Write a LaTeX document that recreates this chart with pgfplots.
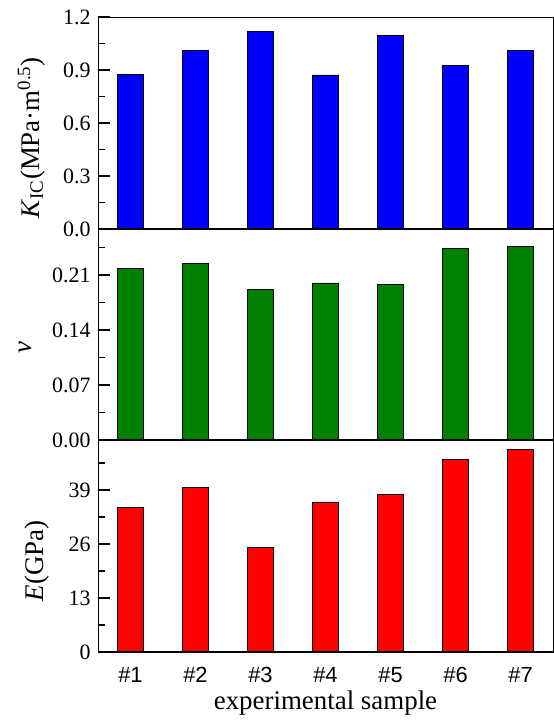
\documentclass[border=0pt]{standalone}
\usepackage{fontspec}
\setmainfont{Liberation Serif}
\newfontfamily\arialf{Liberation Sans}
\usepackage{pgfplots}
\pgfplotsset{compat=1.18}
\definecolor{bblue}{RGB}{0,0,255}
\definecolor{bgreen}{RGB}{0,128,0}
\definecolor{bred}{RGB}{255,0,0}
\pgfplotsset{
  panel/.style={
    scale only axis, width=455bp, height=212bp,
    xmin=0.5, xmax=7.5, ymin=0,
    xtick=\empty, minor xtick={1.5,2.5,3.5,4.5,5.5,6.5},
    xtick pos=bottom, ytick pos=left,
    tick align=inside,
    major tick length=12bp, minor tick length=7bp,
    tick style={line width=1.4bp, black},
    axis line style={line width=0.7bp, black},
    ybar, bar width=0.41,
    /pgf/number format/assume math mode=true,
    tick label style={font=\fontsize{22}{26}\selectfont},
    yticklabel style={xshift=-4bp},
    ylabel style={font=\fontsize{27}{30}\selectfont, anchor=center, rotate=0},
    every axis plot/.append style={draw=black, line width=0.8bp},
  }
}
\begin{document}
\begin{tikzpicture}
\path[use as bounding box] (0,0) rectangle (554bp,720bp);
% top panel
\begin{axis}[panel, at={(98bp,491bp)}, anchor=south west,
  ymax=1.2, ytick={0,0.3,0.6,0.9,1.2}, minor ytick={0.15,0.45,0.75,1.05},
  yticklabel style={/pgf/number format/.cd, fixed, fixed zerofill, precision=1},
  ylabel={\textit{K}\textsubscript{IC}(MPa·m\textsuperscript{0.5})},
  ylabel style={at={(axis description cs:-0.147,0.43)}}]
\addplot[fill=bblue] coordinates {(1,0.873) (2,1.013) (3,1.117) (4,0.872) (5,1.096) (6,0.928) (7,1.009)};
\draw[line width=1.6bp] (rel axis cs:0,1) -- (rel axis cs:0,0) -- (rel axis cs:1,0);
\end{axis}
% middle panel
\begin{axis}[panel, at={(98bp,280bp)}, anchor=south west,
  ymax=0.27, ytick={0,0.07,0.14,0.21}, minor ytick={0.035,0.105,0.175,0.245},
  yticklabel style={/pgf/number format/.cd, fixed, fixed zerofill, precision=2},
  ylabel={\textit{v}},
  ylabel style={at={(axis description cs:-0.160,0.436)}}]
\addplot[fill=bgreen] coordinates {(1,0.218) (2,0.225) (3,0.192) (4,0.200) (5,0.198) (6,0.2445) (7,0.247)};
\draw[line width=1.6bp] (rel axis cs:0,1) -- (rel axis cs:0,0) -- (rel axis cs:1,0);
\end{axis}
% bottom panel
\begin{axis}[panel, at={(98bp,68bp)}, anchor=south west,
  ymax=51, ytick={0,13,26,39}, minor ytick={6.5,19.5,32.5,45.5},
  ylabel={\textit{E}(GPa)},
  ylabel style={at={(axis description cs:-0.134,0.43)}},
  extra x ticks={1,2,3,4,5,6,7},
  extra x tick labels={\#1,\#2,\#3,\#4,\#5,\#6,\#7},
  extra x tick style={tick style={draw=none}, tick label style={font=\arialf\fontsize{22}{26}\selectfont}},
  xlabel={experimental sample},
  xlabel style={font=\fontsize{27}{30}\selectfont, at={(axis description cs:0.5,-0.24)}, anchor=center}]
\addplot[fill=bred] coordinates {(1,34.8) (2,39.6) (3,25.1) (4,36.1) (5,37.9) (6,46.4) (7,48.7)};
\draw[line width=1.6bp] (rel axis cs:0,1) -- (rel axis cs:0,0) -- (rel axis cs:1,0);
\end{axis}
\end{tikzpicture}
\end{document}
